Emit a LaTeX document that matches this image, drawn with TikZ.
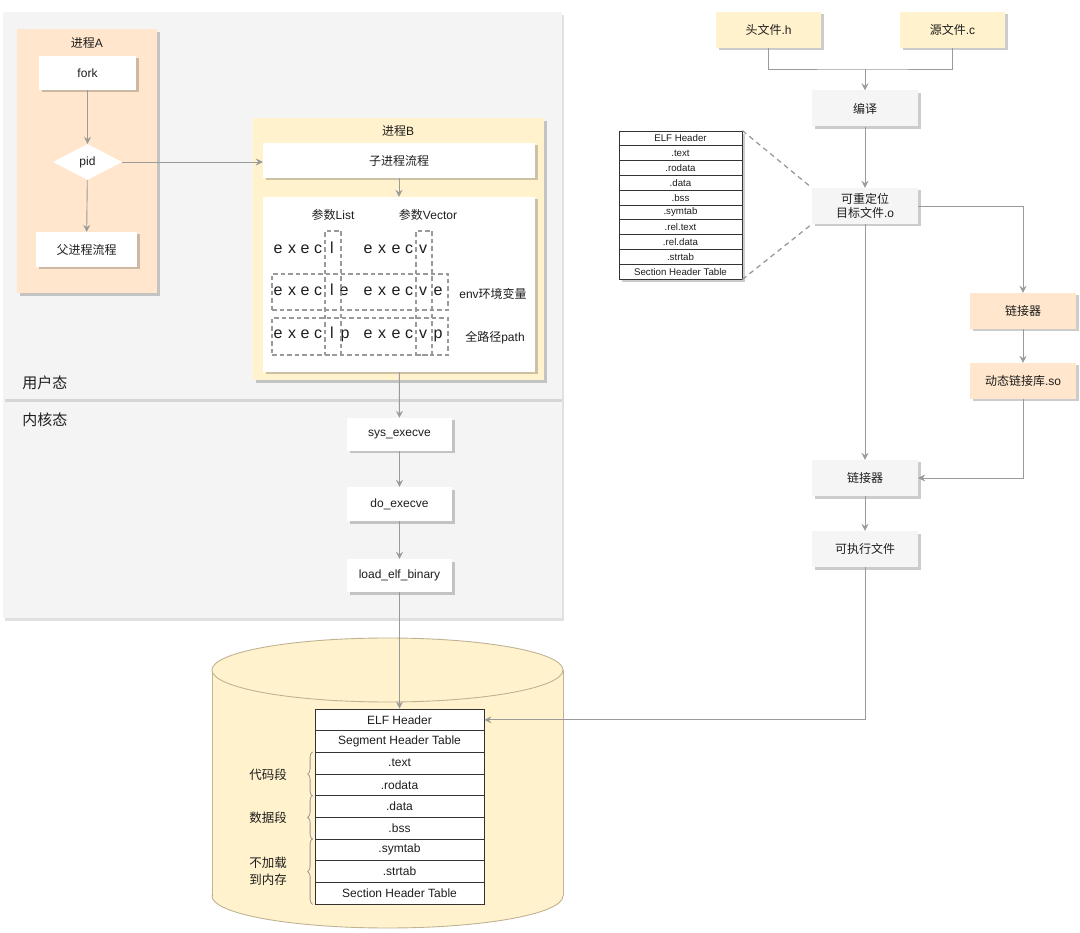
\documentclass[tikz,border=0pt]{standalone}
\usepackage{fontspec}
\setmainfont{Liberation Sans}
\newfontfamily\cjk{Noto Sans CJK SC}
\usetikzlibrary{arrows.meta,shapes.geometric,shadows,decorations.pathreplacing}

\newcommand\zh[1]{{\cjk #1}}
\newcommand\fsz[2]{\fontsize{#1}{#2}\selectfont}

\definecolor{regionfill}{HTML}{F4F4F4}
\definecolor{peach}{HTML}{FFE6CC}
\definecolor{cream}{HTML}{FFF2CC}
\definecolor{softgray}{HTML}{F5F5F5}
\definecolor{linegray}{HTML}{9A9A9A}
\definecolor{inkc}{HTML}{1E1E1E}
\definecolor{cylline}{HTML}{BFB394}
\definecolor{tableline}{HTML}{333333}

\tikzset{
  shd/.style={drop shadow={shadow xshift=2.5pt, shadow yshift=-2.5pt, fill=black, opacity=0.2}},
  lightshd/.style={drop shadow={shadow xshift=2pt, shadow yshift=-2.5pt, fill=black, opacity=0.12}},
  txt/.style={text=inkc, font=\fsz{12}{14}, inner sep=0pt},
  card/.style={txt, rectangle, shd, align=center},
  wcard/.style={card, fill=white},
  gcard/.style={card, fill=softgray, minimum width=106, minimum height=36},
  ycard/.style={card, fill=cream, minimum width=105, minimum height=36},
  pcard/.style={card, fill=peach, minimum width=106, minimum height=36},
  kcard/.style={wcard, minimum width=105, minimum height=34},
  region/.style={rectangle, fill=regionfill, lightshd, inner sep=0pt},
  lbl15/.style={txt, font=\fsz{15}{17}},
  conn/.style={draw=linegray, line width=0.9pt},
  arr/.style={conn, -{Stealth[length=7pt, width=7pt, inset=2.5pt]}},
  dashbox/.style={draw=linegray, dash pattern=on 4.5pt off 3pt, line width=1.2pt, inner sep=0pt, rectangle},
  dashlink/.style={draw=linegray, dash pattern=on 5pt off 4pt, line width=1.3pt},
  letter/.style={txt, font=\fsz{16}{16}, anchor=base},
  elfrow/.style={txt, rectangle, draw=tableline, fill=white, line width=0.8pt,
                 minimum width=169, minimum height=21.67},
  smallrow/.style={txt, rectangle, draw=tableline, fill=white, line width=0.8pt,
                   font=\fsz{9.7}{10}, minimum width=123, minimum height=14.8},
  brc/.style={draw=linegray, line width=0.8pt, decorate, decoration={brace, amplitude=5pt}},
}

\begin{document}
\begin{tikzpicture}[x=1pt, y=-1pt]
\useasboundingbox (0,0) rectangle (1080,933);

% ---- user space / kernel space bands
\node[region, anchor=north west, minimum width=559, minimum height=219] (kernel) at (3,399) {};
\node[region, anchor=north west, minimum width=559, minimum height=387] (user) at (3,12) {};
\node[lbl15] (userlbl) at (45,383) {\zh{用户态}};
\node[lbl15] (kernlbl) at (45,420) {\zh{内核态}};

% ---- process A
\node[card, fill=peach, anchor=north west, minimum width=140, minimum height=264] (procA) at (17,29) {};
\node[txt] (procAt) at (87,43) {\zh{进程}A};
\node[wcard, minimum width=97, minimum height=34] (fork) at (87.5,73) {fork};
\node[txt, diamond, fill=white, minimum width=69, minimum height=36, aspect=1.9] (pid) at (87.5,162) {pid};
\node[wcard, minimum width=101, minimum height=35] (parent) at (86.5,249.5) {\zh{父进程流程}};
\draw[arr] (fork) -- (pid);
\draw[arr] (pid) -- (parent);

% ---- process B
\node[card, fill=cream, anchor=north west, minimum width=291, minimum height=262] (procB) at (253,118) {};
\node[txt] (procBt) at (398,131) {\zh{进程}B};
\node[wcard, minimum width=272, minimum height=35] (child) at (399,160.5) {\zh{子进程流程}};
\node[wcard, minimum width=272, minimum height=175] (args) at (399,284.5) {};
\draw[arr] (pid.east) -- (pid.east -| child.west);
\draw[arr] (child) -- (args);

\node[txt] (argl) at (333,215) {\zh{参数}List};
\node[txt] (argv) at (428,215) {\zh{参数}Vector};
\node[txt] (envl) at (493,294) {env\zh{环境变量}};
\node[txt] (pathl) at (495,338) {\zh{全路径}path};

% exec family, one letter per node
\foreach \xx/\ch [count=\i] in {278/e,292/x,305/e,318/c,332/l,368/e,382/x,396/e,409/c,423/v}
  \node[letter, name=ra\i] at (\xx,254) {\ch};
\foreach \xx/\ch [count=\i] in {278/e,292/x,305/e,318/c,332/l,344/e,368/e,382/x,396/e,409/c,423/v,438/e}
  \node[letter, name=rb\i] at (\xx,296) {\ch};
\foreach \xx/\ch [count=\i] in {278/e,292/x,305/e,318/c,332/l,345/p,368/e,382/x,396/e,409/c,423/v,438/p}
  \node[letter, name=rc\i] at (\xx,339) {\ch};

\node[dashbox, minimum width=16, minimum height=124] (colL) at (333,293) {};
\node[dashbox, minimum width=16, minimum height=124] (colV) at (424,293) {};
\node[dashbox, minimum width=176, minimum height=36] (rowE) at (360,292) {};
\node[dashbox, minimum width=176, minimum height=37] (rowP) at (360,336.5) {};

% ---- kernel path
\node[kcard, minimum height=33] (sys) at (399.5,434.5) {sys\_execve};
\node[kcard] (doex) at (399.5,504) {do\_execve};
\node[kcard, minimum height=33] (load) at (399.5,575.5) {load\_elf\_binary};
\draw[arr] (args) -- (sys);
\draw[arr] (sys) -- (doex);
\draw[arr] (doex) -- (load);

% ---- disk cylinder
\draw[cylline, fill=cream, line width=0.9pt] (387.5,896) ellipse [x radius=175.5pt, y radius=32pt];
\fill[cream] (212,670) rectangle (563,896);
\draw[cylline, line width=0.9pt] (212,670) -- (212,896) (563,670) -- (563,896);
\draw[cylline, fill=cream, line width=0.9pt] (387.5,670) ellipse [x radius=175.5pt, y radius=32pt];

% ---- executable ELF layout
\foreach \t [count=\i] in {ELF Header, Segment Header Table, .text, .rodata, .data, .bss, .symtab, .strtab, Section Header Table}
  \node[elfrow, name=elf\i] at (399.5,{709+(\i-0.5)*21.67}) {\t};

\draw[brc] ([xshift=-2pt]elf4.south west) -- ([xshift=-2pt]elf3.north west);
\draw[brc] ([xshift=-2pt]elf6.south west) -- ([xshift=-2pt]elf5.north west);
\draw[brc] ([xshift=-2pt]elf9.south west) -- ([xshift=-2pt]elf7.north west);
\node[txt, font=\fsz{12.5}{17}] (codeseg) at (268,775) {\zh{代码段}};
\node[txt, font=\fsz{12.5}{17}] (dataseg) at (268,818) {\zh{数据段}};
\node[txt, font=\fsz{12.5}{17}, align=center] (noload) at (268,871) {\zh{不加载}\\\zh{到内存}};

\draw[arr] (load) -- (elf1);

% ---- build pipeline
\node[ycard] (hdr) at (768.5,30) {\zh{头文件}.h};
\node[ycard] (src) at (952.5,30) {\zh{源文件}.c};
\coordinate (mrg) at (865,69);
\node[gcard] (cmp) at (865,108.5) {\zh{编译}};
\node[gcard] (reloc) at (865,206) {\zh{可重定位}\\\zh{目标文件}.o};
\node[pcard] (lk1) at (1023,311) {\zh{链接器}};
\node[pcard] (dyn) at (1023,381) {\zh{动态链接库}.so};
\node[gcard] (lk2) at (865,478) {\zh{链接器}};
\node[gcard] (exe) at (865,549) {\zh{可执行文件}};

\draw[conn] (hdr.south) |- (mrg) -| (src.south);
\draw[arr] (mrg) -- (cmp);
\draw[arr] (cmp) -- (reloc);
\draw[arr] (reloc.east) -| (lk1.north);
\draw[arr] (lk1) -- (dyn);
\draw[arr] (dyn.south) |- (lk2.east);
\draw[arr] (reloc) -- (lk2);
\draw[arr] (lk2) -- (exe);
\draw[arr] (exe.south) |- (elf1.east);

% ---- relocatable object layout
\node[shd, fill=white, minimum width=123, minimum height=148, inner sep=0pt, anchor=north west] (stbg) at (619,131) {};
\foreach \t [count=\i] in {ELF Header, .text, .rodata, .data, .bss, .symtab, .rel.text, .rel.data, .strtab, Section Header Table}
  \node[smallrow, name=st\i] at (680.5,{131+(\i-0.5)*14.8}) {\t};
\draw[dashlink] (st1.north east) -- (reloc.north west);
\draw[dashlink] (st10.south east) -- (reloc.south west);

\end{tikzpicture}
\end{document}
